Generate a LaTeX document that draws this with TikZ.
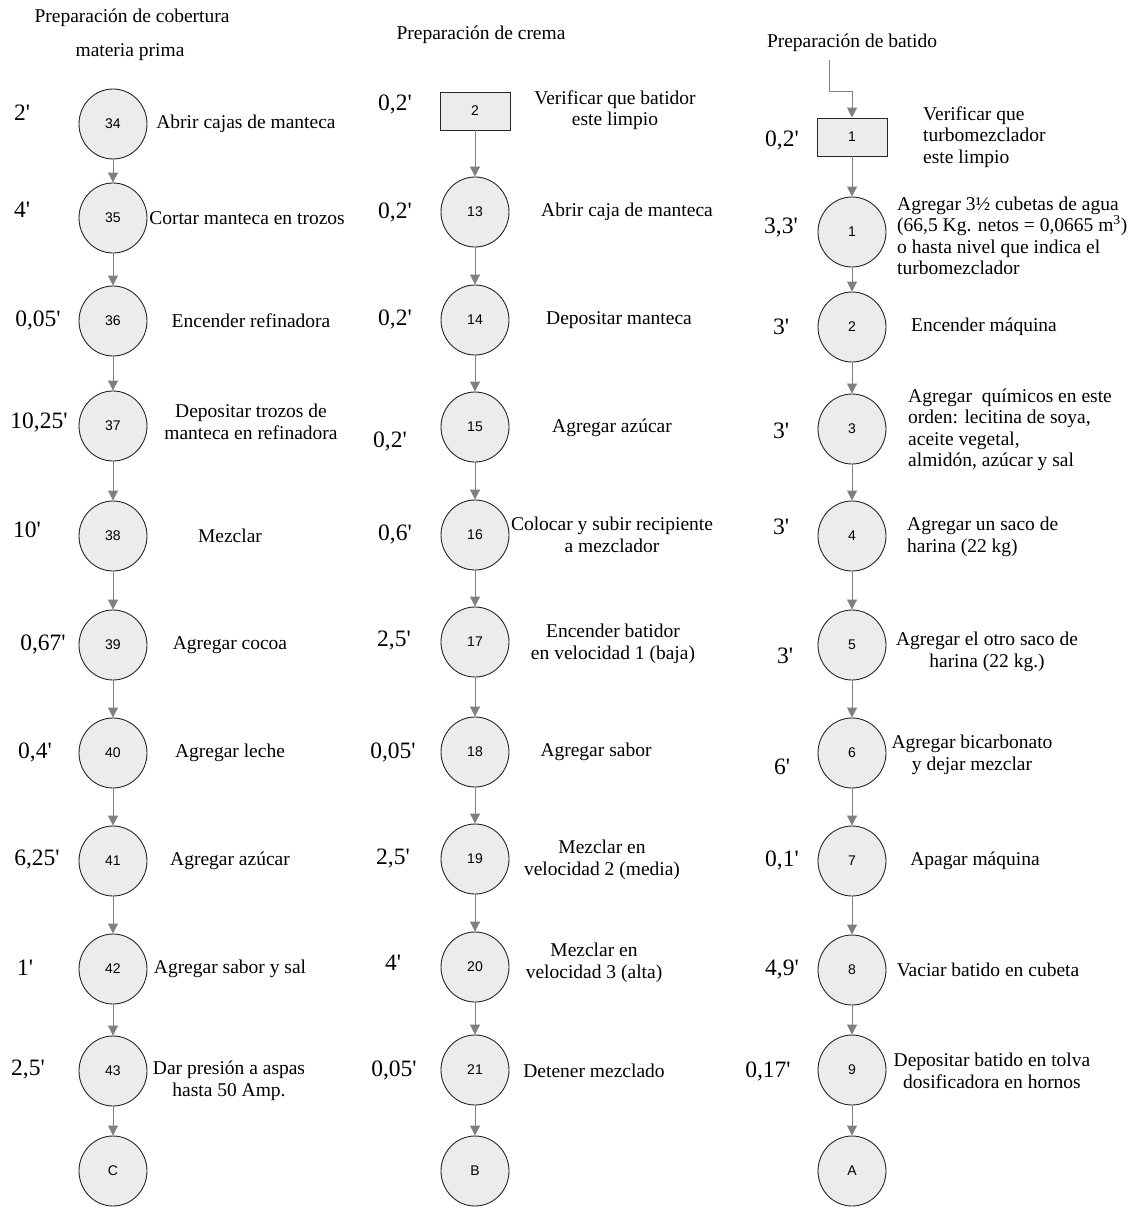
\documentclass[tikz,border=0pt]{standalone}
\usepackage{fontspec}
\setmainfont{Liberation Serif}[Ligatures=TeXOff]
\newfontfamily\numfont{Liberation Sans}
\usetikzlibrary{shapes.geometric,arrows.meta}

\begin{document}
\begin{tikzpicture}[x=1pt,y=-1pt,
    font=\fontsize{19.5}{21.5}\selectfont,
    oper/.style={ellipse,draw=black!85,fill=gray!15,line width=0.9pt,
      minimum width=68pt,minimum height=70pt,inner sep=0pt,
      font=\numfont\fontsize{14}{14}\selectfont},
    insp/.style={rectangle,draw=black!85,fill=gray!15,line width=0.9pt,
      minimum width=70pt,minimum height=38pt,inner sep=0pt,
      font=\numfont\fontsize{14}{14}\selectfont},
    flow/.style={draw=gray,line width=0.9pt,-{Triangle[length=10pt,width=10pt]}},
    txt/.style={inner sep=0pt,align=center},
    tim/.style={inner sep=0pt,font=\fontsize{23.5}{24}\selectfont},
    lft/.style={inner sep=0pt,align=left,anchor=west}]

  \useasboundingbox (0,0) rectangle (1133,1226);

  %% titles
  \node[txt] (titcob) at (132,18) {Preparación de cobertura};
  \node[txt] (titmp) at (130,52) {materia prima};
  \node[txt] (titcre) at (481,35) {Preparación de crema};
  \node[txt] (titbat) at (852,43) {Preparación de batido};

  %% cobertura
  \node[oper] (c34) at (113,124) {34};
  \node[oper] (c35) at (113,218) {35};
  \node[oper] (c36) at (113,321) {36};
  \node[oper] (c37) at (113,426) {37};
  \node[oper] (c38) at (113,536) {38};
  \node[oper] (c39) at (113,645) {39};
  \node[oper] (c40) at (113,753) {40};
  \node[oper] (c41) at (113,861) {41};
  \node[oper] (c42) at (113,969) {42};
  \node[oper] (c43) at (113,1071) {43};
  \node[oper] (C) at (113,1171) {C};

  \node[tim] (t34) at (22,113) {2'};
  \node[tim] (t35) at (22,210) {4'};
  \node[tim] (t36) at (38,320) {0,05'};
  \node[tim] (t37) at (39,422) {10,25'};
  \node[tim] (t38) at (27,530) {10'};
  \node[tim] (t39) at (43,644) {0,67'};
  \node[tim] (t40) at (35,752) {0,4'};
  \node[tim] (t41) at (37,860) {6,25'};
  \node[tim] (t42) at (25,968) {1'};
  \node[tim] (t43) at (28,1070) {2,5'};

  \node[txt] (l34) at (246,124) {Abrir cajas de manteca};
  \node[txt] (l35) at (247,218) {Cortar manteca en trozos};
  \node[txt] (l36) at (251,321) {Encender refinadora};
  \node[txt] (l37) at (251,422) {Depositar trozos de\\manteca en refinadora};
  \node[txt] (l38) at (230,536) {Mezclar};
  \node[txt] (l39) at (230,645) {Agregar cocoa};
  \node[txt] (l40) at (230,753) {Agregar leche};
  \node[txt] (l41) at (230,861) {Agregar azúcar};
  \node[txt] (l42) at (230,969) {Agregar sabor y sal};
  \node[txt] (l43) at (229,1081) {Dar presión a aspas\\hasta 50 Amp.};

  \draw[flow] (c34) -- (c35);
  \draw[flow] (c35) -- (c36);
  \draw[flow] (c36) -- (c37);
  \draw[flow] (c37) -- (c38);
  \draw[flow] (c38) -- (c39);
  \draw[flow] (c39) -- (c40);
  \draw[flow] (c40) -- (c41);
  \draw[flow] (c41) -- (c42);
  \draw[flow] (c42) -- (c43);
  \draw[flow] (c43) -- (C);

  %% crema
  \node[insp] (v2) at (475,111) {2};
  \node[oper] (c13) at (475,212) {13};
  \node[oper] (c14) at (475,320) {14};
  \node[oper] (c15) at (475,427) {15};
  \node[oper] (c16) at (475,535) {16};
  \node[oper] (c17) at (475,642) {17};
  \node[oper] (c18) at (475,752) {18};
  \node[oper] (c19) at (475,859) {19};
  \node[oper] (c20) at (475,967) {20};
  \node[oper] (c21) at (475,1070) {21};
  \node[oper] (B) at (475,1171) {B};

  \node[tim] (tv2) at (395,104) {0,2'};
  \node[tim] (t13) at (395,212) {0,2'};
  \node[tim] (t14) at (395,319) {0,2'};
  \node[tim] (t15) at (390,441) {0,2'};
  \node[tim] (t16) at (395,534) {0,6'};
  \node[tim] (t17) at (394,641) {2,5'};
  \node[tim] (t18) at (393,752) {0,05'};
  \node[tim] (t19) at (393,859) {2,5'};
  \node[tim] (t20) at (393,963) {4'};
  \node[tim] (t21) at (394,1070) {0,05'};

  \node[txt] (lv2) at (615,110) {Verificar que batidor\\este limpio};
  \node[txt] (l13) at (627,212) {Abrir caja de manteca};
  \node[txt] (l14) at (619,320) {Depositar manteca};
  \node[txt] (l15) at (612,428) {Agregar azúcar};
  \node[txt] (l16) at (612,535) {Colocar y subir recipiente\\a mezclador};
  \node[txt] (l17) at (613,644) {Encender batidor\\en velocidad 1 (baja)};
  \node[txt] (l18) at (596,752) {Agregar sabor};
  \node[txt] (l19) at (602,860) {Mezclar en\\velocidad 2 (media)};
  \node[txt] (l20) at (594,963) {Mezclar en\\velocidad 3 (alta)};
  \node[txt] (l21) at (594,1071) {Detener mezclado};

  \draw[flow] (v2) -- (c13);
  \draw[flow] (c13) -- (c14);
  \draw[flow] (c14) -- (c15);
  \draw[flow] (c15) -- (c16);
  \draw[flow] (c16) -- (c17);
  \draw[flow] (c17) -- (c18);
  \draw[flow] (c18) -- (c19);
  \draw[flow] (c19) -- (c20);
  \draw[flow] (c20) -- (c21);
  \draw[flow] (c21) -- (B);

  %% batido
  \coordinate (batin) at (829,60);
  \coordinate (batbend) at (852,91);
  \node[insp] (v1) at (852,137) {1};
  \node[oper] (b1) at (852,232) {1};
  \node[oper] (b2) at (852,327) {2};
  \node[oper] (b3) at (852,429) {3};
  \node[oper] (b4) at (852,536) {4};
  \node[oper] (b5) at (852,645) {5};
  \node[oper] (b6) at (852,753) {6};
  \node[oper] (b7) at (852,861) {7};
  \node[oper] (b8) at (852,970) {8};
  \node[oper] (b9) at (852,1070) {9};
  \node[oper] (A) at (852,1171) {A};

  \node[tim] (tv1) at (782,140) {0,2'};
  \node[tim] (tb1) at (781,228) {3,3'};
  \node[tim] (tb2) at (781,327) {3'};
  \node[tim] (tb3) at (781,431) {3'};
  \node[tim] (tb4) at (781,527) {3'};
  \node[tim] (tb5) at (785,656) {3'};
  \node[tim] (tb6) at (782,767) {6'};
  \node[tim] (tb7) at (782,860) {0,1'};
  \node[tim] (tb8) at (782,970) {4,9'};
  \node[tim] (tb9) at (768,1071) {0,17'};

  \node[lft] (lv1) at (923,137) {Verificar que\\turbomezclador\\este limpio};
  \node[lft] (lb1) at (897,236) {Agregar 3½ cubetas de agua\\(66,5 Kg. netos = 0,0665 m\textsuperscript{3})\\o hasta nivel que indica el\\turbomezclador};
  \node[txt] (lb2) at (984,327) {Encender máquina};
  \node[lft] (lb3) at (908,430) {Agregar\ \ químicos en este\\orden: lecitina de soya,\\aceite vegetal,\\almidón, azúcar y sal};
  \node[lft] (lb4) at (907,537) {Agregar un saco de\\harina (22 kg)};
  \node[txt] (lb5) at (987,652) {Agregar el otro saco de\\harina (22 kg.)};
  \node[txt] (lb6) at (972,755) {Agregar bicarbonato\\y dejar mezclar};
  \node[txt] (lb7) at (975,861) {Apagar máquina};
  \node[txt] (lb8) at (988,970) {Vaciar batido en cubeta};
  \node[txt] (lb9) at (992,1071) {Depositar batido en tolva\\dosificadora en hornos};

  \draw[flow] (batin) |- (batbend) -- (v1);
  \draw[flow] (v1) -- (b1);
  \draw[flow] (b1) -- (b2);
  \draw[flow] (b2) -- (b3);
  \draw[flow] (b3) -- (b4);
  \draw[flow] (b4) -- (b5);
  \draw[flow] (b5) -- (b6);
  \draw[flow] (b6) -- (b7);
  \draw[flow] (b7) -- (b8);
  \draw[flow] (b8) -- (b9);
  \draw[flow] (b9) -- (A);

\end{tikzpicture}
\end{document}
